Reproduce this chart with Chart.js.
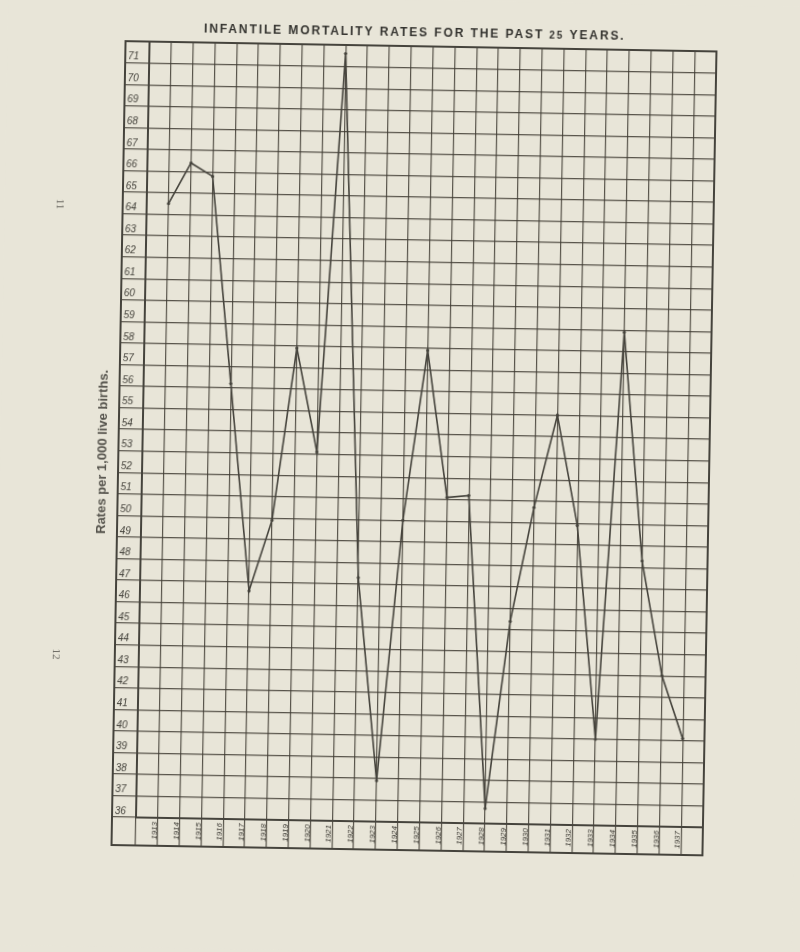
<!DOCTYPE html>
<html>
<head>
<meta charset="utf-8">
<title>Infantile mortality rates for the past 25 years</title>
<script src="https://cdn.jsdelivr.net/npm/chart.js@4.4.1/dist/chart.umd.min.js"></script>
<style>
  html, body { margin: 0; padding: 0; background: #e8e5d8; overflow: hidden; }
  /* the scanned page sits about one degree off square */
  #chart { display: block; transform: rotate(1deg); transform-origin: 400px 476px; }
</style>
</head>
<body>
<canvas id="chart" width="800" height="952"></canvas>
<script>
const years = [1913, 1914, 1915, 1916, 1917, 1918, 1919, 1920, 1921, 1922, 1923, 1924, 1925,
               1926, 1927, 1928, 1929, 1930, 1931, 1932, 1933, 1934, 1935, 1936, 1937];
const rates = [64.5, 66.4, 65.8, 56.2, 46.6, 49.9, 57.9, 53.1, 71.6, 47.3, 37.9, 50.0, 57.9,
               51.1, 51.2, 36.7, 45.4, 50.7, 55.0, 49.9, 40.0, 58.9, 48.3, 43.0, 40.1];
const yearRange = [1912, 1938];
const rateRange = [36, 72];

const titleText = 'INFANTILE MORTALITY RATES FOR THE PAST 25 YEARS.';
const yTitle = 'Rates per 1,000 live births.';
const pageNumbers = ['11', '12'];

const paper = '#e8e5d8';
const ink = '#45433c';
const gridInk = 'rgba(62, 59, 51, 0.85)';

// paper background, outer frame, title and side texts
const pagePlugin = {
  id: 'page',
  beforeDraw(chart) {
    const ctx = chart.ctx;
    ctx.save();
    ctx.fillStyle = paper;
    ctx.fillRect(0, 0, chart.width, chart.height);
    ctx.restore();
  },
  afterDraw(chart) {
    const { ctx, chartArea, scales } = chart;
    const left = scales.y.left, right = chartArea.right;
    const top = chartArea.top, bottom = scales.x.bottom;

    ctx.save();
    ctx.strokeStyle = ink;
    ctx.lineWidth = 2;
    ctx.strokeRect(left, top, right - left, bottom - top);

    // title, with the small "25"
    const parts = titleText.split('25');
    ctx.fillStyle = '#34332f';
    ctx.textBaseline = 'middle';
    ctx.letterSpacing = '1.9px';
    const big = 'bold 12px "Liberation Sans", Arial, sans-serif';
    const small = 'bold 10px "Liberation Sans", Arial, sans-serif';
    ctx.font = big;
    const w1 = ctx.measureText(parts[0]).width;
    const w3 = ctx.measureText(parts[1]).width;
    ctx.font = small;
    const w2 = ctx.measureText('25').width;
    let x = 407 - (w1 + w2 + w3) / 2;
    const y = 33;
    ctx.font = big;
    ctx.fillText(parts[0], x, y);
    x += w1;
    ctx.font = small;
    ctx.fillText('25', x, y + 0.5);
    x += w2;
    ctx.font = big;
    ctx.fillText(parts[1], x, y);
    ctx.letterSpacing = '0px';

    // axis title on the left
    ctx.save();
    ctx.translate(102, 457);
    ctx.rotate(-Math.PI / 2);
    ctx.textAlign = 'center';
    ctx.fillStyle = '#56544d';
    ctx.font = 'bold 13px "Liberation Sans", Arial, sans-serif';
    ctx.fillText(yTitle, 0, 0);
    ctx.restore();

    // page numbers printed sideways in the margin
    ctx.fillStyle = '#6f6d66';
    ctx.font = '11px "Liberation Serif", serif';
    ctx.textAlign = 'center';
    [[55, 210], [59, 660]].forEach((p, i) => {
      ctx.save();
      ctx.translate(p[0], p[1]);
      ctx.rotate(Math.PI / 2);
      ctx.fillText(pageNumbers[i], 0, 0);
      ctx.restore();
    });
    ctx.restore();
  }
};

new Chart(document.getElementById('chart'), {
  type: 'line',
  data: {
    datasets: [{
      label: 'Infantile mortality rate',
      data: years.map((yr, i) => ({ x: yr, y: rates[i] })),
      borderColor: ink,
      borderWidth: 1.6,
      pointRadius: 1.6,
      pointBackgroundColor: ink,
      pointBorderWidth: 0,
      tension: 0
    }]
  },
  options: {
    responsive: false,
    devicePixelRatio: 1,
    animation: false,
    layout: { padding: { left: 118, right: 91, top: 46, bottom: 102 } },
    plugins: {
      legend: { display: false },
      title: { display: false },
      tooltip: { enabled: false }
    },
    scales: {
      x: {
        type: 'linear',
        min: yearRange[0],
        max: yearRange[1],
        afterFit: scale => { scale.height = 28; },
        ticks: {
          stepSize: 1,
          autoSkip: false,
          minRotation: 90,
          maxRotation: 90,
          padding: -24,
          labelOffset: -3,
          color: ink,
          font: { family: '"Liberation Sans", Arial, sans-serif', size: 8, style: 'italic' },
          callback: v => (v > yearRange[0] && v < yearRange[1]) ? String(v) : ''
        },
        grid: { color: gridInk, lineWidth: 1.2, tickLength: 28 },
        border: { color: ink, width: 2 }
      },
      y: {
        min: rateRange[0],
        max: rateRange[1],
        afterFit: scale => { scale.width = 24; },
        ticks: {
          stepSize: 1,
          autoSkip: false,
          crossAlign: 'far',
          labelOffset: -6,
          color: ink,
          font: { family: '"Liberation Sans", Arial, sans-serif', size: 10, style: 'italic' },
          callback: v => v < rateRange[1] ? ' ' + v : ''
        },
        grid: { color: gridInk, lineWidth: 1.2, tickLength: 24 },
        border: { color: ink, width: 2 }
      }
    }
  },
  plugins: [pagePlugin]
});
</script>
</body>
</html>
